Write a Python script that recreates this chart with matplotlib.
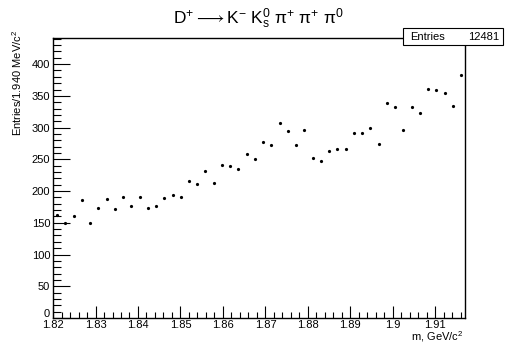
import numpy as np
import matplotlib
matplotlib.use('Agg')
import matplotlib.pyplot as plt
from matplotlib.ticker import MultipleLocator, FuncFormatter
from matplotlib.patches import Rectangle
import matplotlib.transforms as mtrans

plt.rcParams['font.family'] = ['Liberation Sans', 'DejaVu Sans']
plt.rcParams['mathtext.fontset'] = 'custom'
plt.rcParams['mathtext.rm'] = 'Liberation Sans'
plt.rcParams['mathtext.it'] = 'Liberation Sans:italic'

# histogram: 50 bins of 1.940 MeV starting at 1.82 GeV
x_min = 1.82
bin_width = 0.00194
counts = [162, 150, 160, 186, 150, 173, 188, 171, 191, 177,
          191, 173, 176, 189, 194, 191, 216, 211, 232, 212,
          241, 239, 235, 259, 251, 278, 272, 308, 294, 273,
          296, 252, 248, 263, 266, 266, 292, 292, 299, 274,
          339, 332, 296, 332, 323, 361, 360, 354, 334, 383]
entries = 12481

n_bins = len(counts)
centers = x_min + bin_width * (np.arange(n_bins) + 0.5)
x_max = x_min + bin_width * n_bins

fig = plt.figure(figsize=(5.05, 3.49), dpi=100)
ax = fig.add_axes([0.105, 0.0888, 0.816, 0.802])

ax.plot(centers, counts, linestyle='none', marker='o', color='black',
        markersize=2.3, markeredgewidth=0)

ax.set_xlim(x_min, x_max)
ax.set_ylim(0, 441)

ax.xaxis.set_major_locator(MultipleLocator(0.01))
ax.xaxis.set_minor_locator(MultipleLocator(0.002))
ax.yaxis.set_major_locator(MultipleLocator(50))
ax.yaxis.set_minor_locator(MultipleLocator(10))
ax.xaxis.set_major_formatter(FuncFormatter(lambda v, p: f'{v:g}'))
ax.set_yticks([0, 50, 100, 150, 200, 250, 300, 350, 400])

ax.tick_params(which='both', direction='in', top=False, right=False,
               labelsize=8, width=0.8)
ax.tick_params(axis='x', which='major', length=9, pad=1.5)
ax.tick_params(axis='x', which='minor', length=4.5)
ax.tick_params(axis='y', which='major', length=12, pad=2)
ax.tick_params(axis='y', which='minor', length=6)
for s in ax.spines.values():
    s.set_linewidth(1.0)

# raise the "0" label a little, as ROOT does
zero_lab = ax.get_yticklabels()[0]
zero_lab.set_transform(zero_lab.get_transform() +
                       mtrans.ScaledTranslation(0, 5 / 100, fig.dpi_scale_trans))

fig.text(463 / 505, 1 - 337 / 349, r'm, GeV/c$^{2}$', ha='right', va='center',
         fontsize=8)
fig.text(17 / 505, 1 - 30 / 349, r'Entries/1.940 MeV/c$^{2}$', rotation=90,
         ha='center', va='top', fontsize=8)

fig.text(0.512, 1 - 19 / 349,
         r'$\mathrm{D^{+} \longrightarrow K^{-}\ K^{0}_{s}\ \pi^{+}\ \pi^{+}\ \pi^{0}}$',
         ha='center', va='center', fontsize=12.5)

# stats box
box = Rectangle((403 / 505, 1 - 45 / 349), 100 / 505, 17 / 349,
                transform=fig.transFigure, facecolor='white',
                edgecolor='black', linewidth=0.8, zorder=5)
fig.add_artist(box)
fig.text(410 / 505, 1 - 36.5 / 349, 'Entries', ha='left', va='center',
         fontsize=8, zorder=6)
fig.text(499 / 505, 1 - 36.5 / 349, str(entries), ha='right', va='center',
         fontsize=8, zorder=6)

fig.savefig('out.png', dpi=100)
